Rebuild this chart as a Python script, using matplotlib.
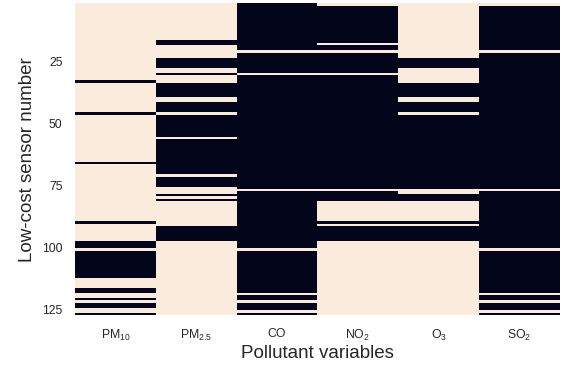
import numpy as np
import matplotlib
matplotlib.use('Agg')
import matplotlib.pyplot as plt
from matplotlib.colors import ListedColormap

plt.rcParams['font.family'] = ['Liberation Sans', 'DejaVu Sans']
plt.rcParams['mathtext.default'] = 'regular'

# pollutant columns and their tick labels
pollutants = ['PM10', 'PM2.5', 'CO', 'NO2', 'O3', 'SO2']
tick_labels = ['PM$_{10}$', 'PM$_{2.5}$', 'CO', 'NO$_2$', 'O$_3$', 'SO$_2$']

# sensor numbers shown on the y axis
sensor_first = 2
sensor_last = 127

# runs of sensors (first, last) that have data for each pollutant (dark cells)
pm10_runs = [(33, 33), (46, 46), (66, 66), (90, 90), (98, 100), (102, 112),
             (117, 118), (121, 121), (123, 124), (127, 127)]
pm25_runs = [(17, 18), (24, 27), (30, 30), (34, 39), (42, 45), (47, 55),
             (57, 70), (72, 75), (79, 79), (81, 81), (92, 97)]
co_runs = [(2, 20), (22, 29), (31, 76), (78, 100), (102, 118), (120, 121),
           (123, 125), (127, 127)]
no2_runs = [(3, 17), (19, 20), (22, 29), (31, 76), (78, 81), (90, 90), (92, 97)]
o3_runs = [(24, 27), (34, 39), (42, 45), (47, 76), (79, 81), (90, 90), (92, 97)]
so2_runs = [(3, 20), (22, 76), (78, 100), (102, 118), (120, 121), (123, 125),
            (127, 127)]

all_runs = [pm10_runs, pm25_runs, co_runs, no2_runs, o3_runs, so2_runs]

sensors = np.arange(sensor_first, sensor_last + 1)
present = np.zeros((len(sensors), len(pollutants)))
for j, runs in enumerate(all_runs):
    for a, b in runs:
        present[(sensors >= a) & (sensors <= b), j] = 1

# rocket extremes: light = missing, dark = present
cmap = ListedColormap(['#faebdd', '#03051a'])

fig = plt.figure(figsize=(5.66, 3.72), dpi=100)
ax = fig.add_axes([0.1325, 0.1524, 0.8569, 0.8387])

x_edges = np.arange(len(pollutants) + 1) - 0.5
y_edges = np.arange(sensor_first, sensor_last + 2) - 0.5
ax.pcolormesh(x_edges, y_edges, present, cmap=cmap, vmin=0, vmax=1)
ax.set_xlim(x_edges[0], x_edges[-1])
ax.set_ylim(y_edges[-1], y_edges[0])

ax.set_xticks(np.arange(len(pollutants)))
ax.set_xticklabels(tick_labels)
ax.set_yticks([25, 50, 75, 100, 125])
ax.tick_params(axis='both', length=0, labelsize=8.8, colors='.15')
ax.tick_params(axis='x', pad=9)
ax.tick_params(axis='y', pad=9)
for s in ax.spines.values():
    s.set_visible(False)

ax.set_xlabel('Pollutant variables', fontsize=13.5, color='.15')
ax.set_ylabel('Low-cost sensor number', fontsize=13.5, color='.15')
ax.xaxis.set_label_coords(0.5, -0.094)
ax.yaxis.set_label_coords(-0.081, 0.5)

fig.savefig('out.png', dpi=100)
